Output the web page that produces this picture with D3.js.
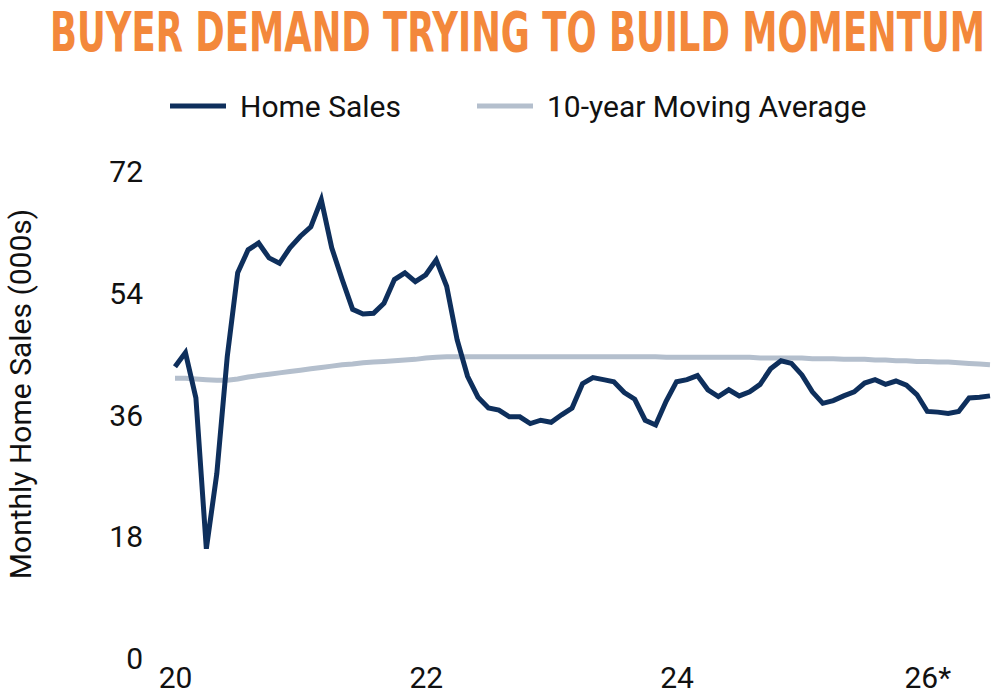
<!DOCTYPE html>
<html>
<head>
<meta charset="utf-8">
<script src="https://cdn.jsdelivr.net/npm/d3@7"></script>
<style>
  body { margin: 0; background: #fff; }
  svg text { font-family: Roboto, "Noto Sans", sans-serif; fill: #111; }
</style>
</head>
<body>
<div id="chart_div"></div>
<script>
// monthly home sales (000s), Jan 2020 onwards
var home_sales = [
    43.2, 45.3, 38.6, 16.3, 27.4, 44.7, 57.1, 60.5, 61.5, 59.3, 58.5, 60.8,
    62.5, 63.9, 67.9, 60.8, 56.1, 51.7, 51.0, 51.1, 52.6, 56.1, 57.1, 55.8,
    56.8, 59.0, 55.1, 47.2, 41.8, 38.7, 37.1, 36.8, 35.8, 35.8, 34.8, 35.3,
    35.0, 36.1, 37.1, 40.7, 41.6, 41.3, 41.0, 39.4, 38.4, 35.3, 34.6, 38.1,
    41.0, 41.3, 41.9, 39.8, 38.8, 39.8, 38.9, 39.5, 40.6, 42.9, 44.1, 43.7,
    42.0, 39.5, 37.8, 38.2, 38.9, 39.5, 40.8, 41.3, 40.6, 41.1, 40.5, 39.1,
    36.6, 36.5, 36.3, 36.6, 38.6, 38.7, 38.9
];
var moving_average = [
    41.5, 41.5, 41.4, 41.3, 41.2, 41.2, 41.4, 41.7, 41.9, 42.1, 42.3, 42.5,
    42.7, 42.9, 43.1, 43.3, 43.5, 43.6, 43.8, 43.9, 44.0, 44.1, 44.2, 44.3,
    44.5, 44.6, 44.7, 44.7, 44.7, 44.7, 44.7, 44.7, 44.7, 44.7, 44.7, 44.7,
    44.7, 44.7, 44.7, 44.7, 44.7, 44.7, 44.7, 44.7, 44.7, 44.7, 44.7, 44.6,
    44.6, 44.6, 44.6, 44.6, 44.6, 44.6, 44.6, 44.6, 44.5, 44.5, 44.5, 44.5,
    44.5, 44.4, 44.4, 44.4, 44.3, 44.3, 44.3, 44.2, 44.2, 44.1, 44.1, 44.0,
    44.0, 43.9, 43.9, 43.8, 43.7, 43.6, 43.5
];
var y_ticks = [0, 18, 36, 54, 72];
var x_ticks = [0, 24, 48, 72];
var x_tick_labels = ["20", "22", "24", "26*"];
var series_names = ["Home Sales", "10-year Moving Average"];
var series_colors = ["#0e2f5c", "#b4bfcd"];

var width = 1000, height = 698;

var svg = d3.select("#chart_div")
  .append("svg")
    .attr("width", width)
    .attr("height", height);

var x = d3.scaleLinear()
    .domain([0, 78])
    .range([175, 990]);
var y = d3.scaleLinear()
    .domain([0, 72])
    .range([659, 172]);

// title
svg.append("text")
    .attr("x", 50)
    .attr("y", 51)
    .attr("textLength", 935)
    .attr("lengthAdjust", "spacingAndGlyphs")
    .style("font-family", "'Liberation Sans Narrow', 'DejaVu Sans Condensed', sans-serif")
    .style("font-weight", "bold")
    .style("font-size", "55px")
    .style("fill", "#f3883b")
    .text("BUYER DEMAND TRYING TO BUILD MOMENTUM");

// legend
var legend_x = [170, 477];
var legend = svg.selectAll(".legend")
  .data(series_names)
  .enter()
  .append("g")
    .attr("class", "legend")
    .attr("transform", function(d, i) { return "translate(" + legend_x[i] + ",106)"; });
legend.append("line")
    .attr("x1", 0)
    .attr("x2", 56)
    .attr("stroke", function(d, i) { return series_colors[i]; })
    .attr("stroke-width", 5);
legend.append("text")
    .attr("x", 70)
    .attr("y", 11)
    .style("font-size", "30px")
    .text(function(d) { return d; });

// y axis, ticks hidden
var y_axis = svg.append("g")
    .attr("transform", "translate(143,0)")
    .call(d3.axisLeft(y).tickValues(y_ticks).tickSize(0).tickPadding(0));
y_axis.select(".domain").remove();
y_axis.selectAll("text")
    .style("font-size", "30px")
    .style("fill", "#111");

// x axis, ticks hidden
var x_axis = svg.append("g")
    .attr("transform", "translate(0,667)")
    .call(d3.axisBottom(x).tickValues(x_ticks).tickSize(0).tickPadding(0)
      .tickFormat(function(d, i) { return x_tick_labels[i]; }));
x_axis.select(".domain").remove();
x_axis.selectAll("text")
    .style("font-size", "30px")
    .style("fill", "#111");

svg.append("text")
    .attr("transform", "translate(31,394) rotate(-90)")
    .attr("text-anchor", "middle")
    .style("font-size", "30px")
    .text("Monthly Home Sales (000s)");

var line = d3.line()
    .x(function(d, i) { return x(i); })
    .y(function(d) { return y(d); });

svg.append("path")
    .datum(moving_average)
    .attr("d", line)
    .attr("fill", "none")
    .attr("stroke", series_colors[1])
    .attr("stroke-width", 5);

svg.append("path")
    .datum(home_sales)
    .attr("d", line)
    .attr("fill", "none")
    .attr("stroke", series_colors[0])
    .attr("stroke-width", 5);
</script>
</body>
</html>
